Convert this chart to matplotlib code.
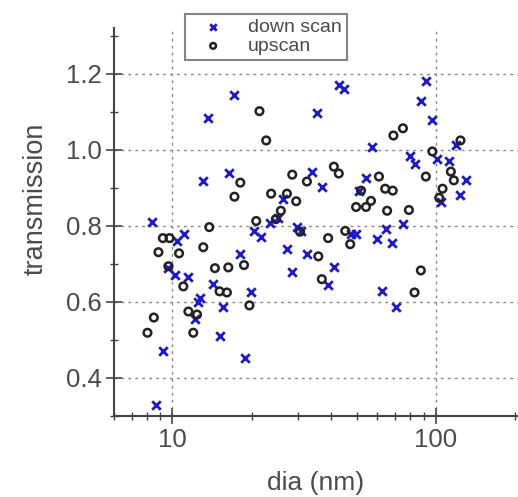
import numpy as np
import matplotlib
matplotlib.use("Agg")
import matplotlib.pyplot as plt
from matplotlib.ticker import LogLocator, MultipleLocator, FixedLocator, FixedFormatter, NullFormatter

plt.rcParams['font.family'] = ['Liberation Sans', 'DejaVu Sans']

# down scan (blue crosses)
down_dia = [8.4, 8.7, 9.2, 9.6, 10.2, 10.4, 11.1, 11.5, 12.2, 12.5, 12.7, 13.1, 13.7,
            14.3, 15.1, 15.6, 16.4, 17.2, 18.1, 18.9, 19.9, 20.4, 21.7, 23.5, 25.2,
            26.3, 27.3, 28.5, 29.8, 30.8, 32.4, 33.8, 35.4, 36.9, 39.0, 41.0, 42.8,
            44.8, 47.6, 49.8, 51.0, 54.3, 57.0, 59.8, 62.4, 64.6, 68.0, 70.4, 74.8,
            79.6, 83.0, 87.7, 91.6, 96.5, 101, 105, 112, 119, 124, 130]
down_tr = [0.81, 0.33, 0.47, 0.69, 0.67, 0.76, 0.78, 0.665, 0.554, 0.60, 0.61, 0.917, 1.083,
           0.646, 0.51, 0.588, 0.94, 1.144, 0.726, 0.453, 0.625, 0.787, 0.77, 0.808, 0.82,
           0.87, 0.74, 0.678, 0.797, 0.787, 0.726, 0.943, 1.097, 0.903, 0.644, 0.691, 1.171,
           1.16, 0.779, 0.779, 0.893, 0.927, 1.009, 0.766, 0.628, 0.792, 0.755, 0.588, 0.805,
           0.985, 0.964, 1.128, 1.181, 1.08, 0.977, 0.864, 0.97, 1.012, 0.882, 0.92]

# upscan (open circles)
up_dia = [8.04, 8.5, 8.85, 9.2, 9.66, 9.75, 10.6, 11.0, 11.5, 12.0, 12.4, 13.1, 13.8,
          14.5, 15.1, 16.1, 16.3, 17.2, 18.1, 18.7, 19.6, 20.8, 21.4, 22.7, 23.7, 24.7,
          25.8, 27.2, 28.5, 29.5, 30.5, 32.4, 35.8, 36.9, 39.0, 41.0, 42.8, 45.3, 47.3,
          49.8, 52.0, 54.3, 56.7, 60.8, 64.2, 65.3, 68.6, 69.0, 75.0, 79.0, 83.0, 87.7,
          91.6, 97.0, 103, 106, 114, 117, 124]
up_tr = [0.519, 0.559, 0.731, 0.768, 0.694, 0.768, 0.728, 0.641, 0.575, 0.519, 0.567, 0.744, 0.797,
         0.689, 0.628, 0.625, 0.691, 0.877, 0.914, 0.697, 0.591, 0.813, 1.102, 1.025, 0.885, 0.818,
         0.84, 0.885, 0.935, 0.865, 0.785, 0.917, 0.72, 0.66, 0.768, 0.956, 0.938, 0.787, 0.752,
         0.85, 0.893, 0.85, 0.866, 0.93, 0.898, 0.84, 0.893, 1.038, 1.057, 0.842, 0.625, 0.683,
         0.93, 0.996, 0.874, 0.898, 0.943, 0.92, 1.025]

x_ticks = [10, 100]
y_ticks = [0.4, 0.6, 0.8, 1.0, 1.2]

text_col = '#4a4a4a'

fig = plt.figure(figsize=(5.18, 4.97), dpi=100)
ax = fig.add_axes([0.220, 0.163, 0.78, 0.78])

ax.scatter(down_dia, down_tr, marker='x', s=38, color='#1a1acc', linewidths=2.0,
           label='down scan', zorder=3)
ax.scatter(up_dia, up_tr, marker='o', s=30, facecolors='none', edgecolors='#222222',
           linewidths=1.8, label='upscan', zorder=3)

ax.set_xscale('log')
ax.set_xlim(6, 205)
ax.set_ylim(0.3, 1.32)

ax.xaxis.set_major_locator(FixedLocator(x_ticks))
ax.xaxis.set_major_formatter(FixedFormatter([str(t) for t in x_ticks]))
ax.xaxis.set_minor_locator(LogLocator(base=10, subs=np.arange(2, 10)))
ax.xaxis.set_minor_formatter(NullFormatter())
ax.yaxis.set_major_locator(FixedLocator(y_ticks))
ax.yaxis.set_major_formatter(FixedFormatter([f'{t:.1f}' for t in y_ticks]))
ax.yaxis.set_minor_locator(MultipleLocator(0.1))

ax.tick_params(which='major', direction='inout', length=11, width=1.2, labelsize=18.5,
               colors='#444444', labelcolor=text_col, pad=3)
ax.tick_params(which='minor', direction='inout', length=6, width=1.0, colors='#444444')

ax.grid(True, which='major', linestyle=(0, (2, 3)), color='#888888', linewidth=1.0)

for side in ['top', 'right']:
    ax.spines[side].set_visible(False)
for side in ['left', 'bottom']:
    ax.spines[side].set_color('#444444')
    ax.spines[side].set_linewidth(1.5)

ax.set_xlabel('dia (nm)', fontsize=19, color=text_col, labelpad=14)
ax.set_ylabel('transmission', fontsize=19.5, color=text_col)
ax.yaxis.set_label_coords(-0.162, 0.56)

leg = ax.legend(loc='upper left', bbox_to_anchor=(0.357, 0.972), bbox_transform=fig.transFigure,
                fontsize=14, frameon=True, fancybox=False, edgecolor='#666666',
                handletextpad=0.6, borderpad=0.25, labelspacing=0.05, markerscale=0.75,
                handlelength=2.4, borderaxespad=0)
leg.get_frame().set_linewidth(1.5)
for t in leg.get_texts():
    t.set_color(text_col)

fig.savefig('out.png', dpi=100)
